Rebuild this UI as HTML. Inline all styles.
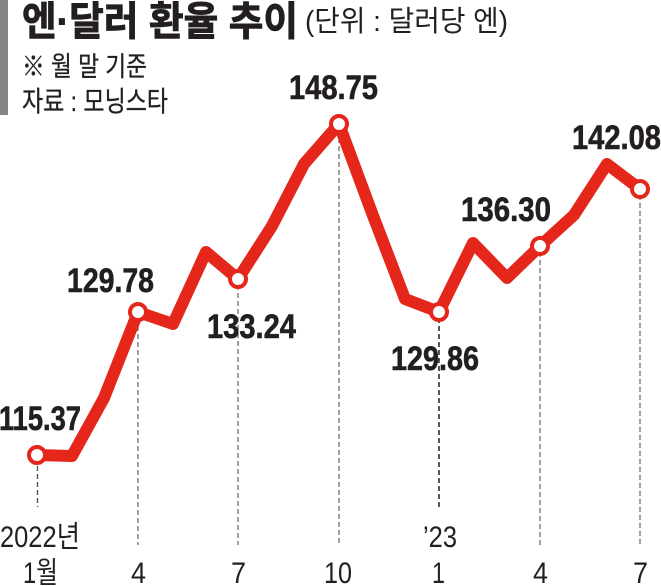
<!DOCTYPE html>
<html>
<head>
<meta charset="utf-8">
<style>
  html, body { margin: 0; padding: 0; background: #fff; }
  svg { display: block; }
  .num { font-family: "Liberation Sans", "Noto Sans CJK KR", sans-serif; font-weight: bold; font-size: 34px; fill: #231f20; stroke: #231f20; stroke-width: 0.6; }
  .ax { font-family: "Liberation Sans", "Noto Sans CJK KR", sans-serif; font-size: 30px; fill: #231f20; }
  .kr { font-family: "Liberation Sans", "Noto Sans CJK KR", sans-serif; fill: #231f20; }
</style>
</head>
<body>
<svg width="661" height="586" viewBox="0 0 661 586" xmlns="http://www.w3.org/2000/svg">
  <rect x="0" y="0" width="661" height="586" fill="#ffffff"/>
  <!-- left gray bar -->
  <rect x="0" y="0" width="8" height="115" fill="#858585"/>

  <!-- title -->
  <text class="kr" x="22" y="35" font-size="40" font-weight="bold" stroke="#231f20" stroke-width="0.9" textLength="276" lengthAdjust="spacingAndGlyphs">엔·달러 환율 추이</text>
  <text class="kr" x="305" y="31" font-size="29" textLength="203" lengthAdjust="spacingAndGlyphs">(단위 : 달러당 엔)</text>
  <text class="kr" x="22" y="76" font-size="27" stroke="#231f20" stroke-width="0.3" textLength="125" lengthAdjust="spacingAndGlyphs">※ 월 말 기준</text>
  <text class="kr" x="22" y="111" font-size="28" stroke="#231f20" stroke-width="0.3" textLength="146" lengthAdjust="spacingAndGlyphs">자료 : 모닝스타</text>

  <!-- dashed guide lines -->
  <g stroke-width="1.4" stroke-dasharray="5 3" fill="none">
    <line x1="37.5" y1="466" x2="37.5" y2="507" stroke="#555"/>
    <line x1="138" y1="318" x2="138" y2="545" stroke="#777"/>
    <line x1="238" y1="285" x2="238" y2="545" stroke="#777"/>
    <line x1="339" y1="130" x2="339" y2="545" stroke="#777"/>
    <line x1="439" y1="318" x2="439" y2="508" stroke="#111"/>
    <line x1="540" y1="252" x2="540" y2="545" stroke="#777"/>
    <line x1="640" y1="195" x2="640" y2="545" stroke="#777"/>
  </g>

  <!-- main line -->
  <polyline fill="none" stroke="#e4261b" stroke-width="12" stroke-linejoin="round" stroke-linecap="round"
    points="37,455 72,456 104,398 138,312 173,324 206,252 238,279 272,226 304,164 339,124 372,213 405,299 439,312 473,243 507,278 540,246 574,215 607,164 640,189"/>

  <!-- markers -->
  <g fill="#ffffff" stroke="#e4261b" stroke-width="4">
    <circle cx="37" cy="455" r="8"/>
    <circle cx="138" cy="312" r="8"/>
    <circle cx="238" cy="279" r="8"/>
    <circle cx="339" cy="124" r="8"/>
    <circle cx="439" cy="312" r="8"/>
    <circle cx="540" cy="246" r="8"/>
    <circle cx="640" cy="189" r="8"/>
  </g>

  <!-- value labels -->
  <text class="num" x="-1" y="430" textLength="82" lengthAdjust="spacingAndGlyphs">115.37</text>
  <text class="num" x="67" y="292" textLength="87" lengthAdjust="spacingAndGlyphs">129.78</text>
  <text class="num" x="207" y="338" textLength="89" lengthAdjust="spacingAndGlyphs">133.24</text>
  <text class="num" x="289" y="99" textLength="89" lengthAdjust="spacingAndGlyphs">148.75</text>
  <text class="num" x="391" y="370" textLength="88" lengthAdjust="spacingAndGlyphs">129.86</text>
  <text class="num" x="461" y="221" textLength="90" lengthAdjust="spacingAndGlyphs">136.30</text>
  <text class="num" x="572" y="149" textLength="89" lengthAdjust="spacingAndGlyphs">142.08</text>

  <!-- year labels -->
  <text class="ax" x="0" y="547" font-size="31" textLength="80" lengthAdjust="spacingAndGlyphs">2022년</text>
  <text class="ax" x="423" y="547" font-size="31" textLength="34" lengthAdjust="spacingAndGlyphs">’23</text>

  <!-- month labels -->
  <text class="ax" x="23" y="583" textLength="35" lengthAdjust="spacingAndGlyphs">1월</text>
  <text class="ax" x="131" y="583" textLength="15" lengthAdjust="spacingAndGlyphs">4</text>
  <text class="ax" x="231" y="583" textLength="15" lengthAdjust="spacingAndGlyphs">7</text>
  <text class="ax" x="324" y="583" textLength="28" lengthAdjust="spacingAndGlyphs">10</text>
  <text class="ax" x="432" y="583" textLength="13" lengthAdjust="spacingAndGlyphs">1</text>
  <text class="ax" x="533" y="583" textLength="15" lengthAdjust="spacingAndGlyphs">4</text>
  <text class="ax" x="633" y="583" textLength="15" lengthAdjust="spacingAndGlyphs">7</text>
</svg>
</body>
</html>
